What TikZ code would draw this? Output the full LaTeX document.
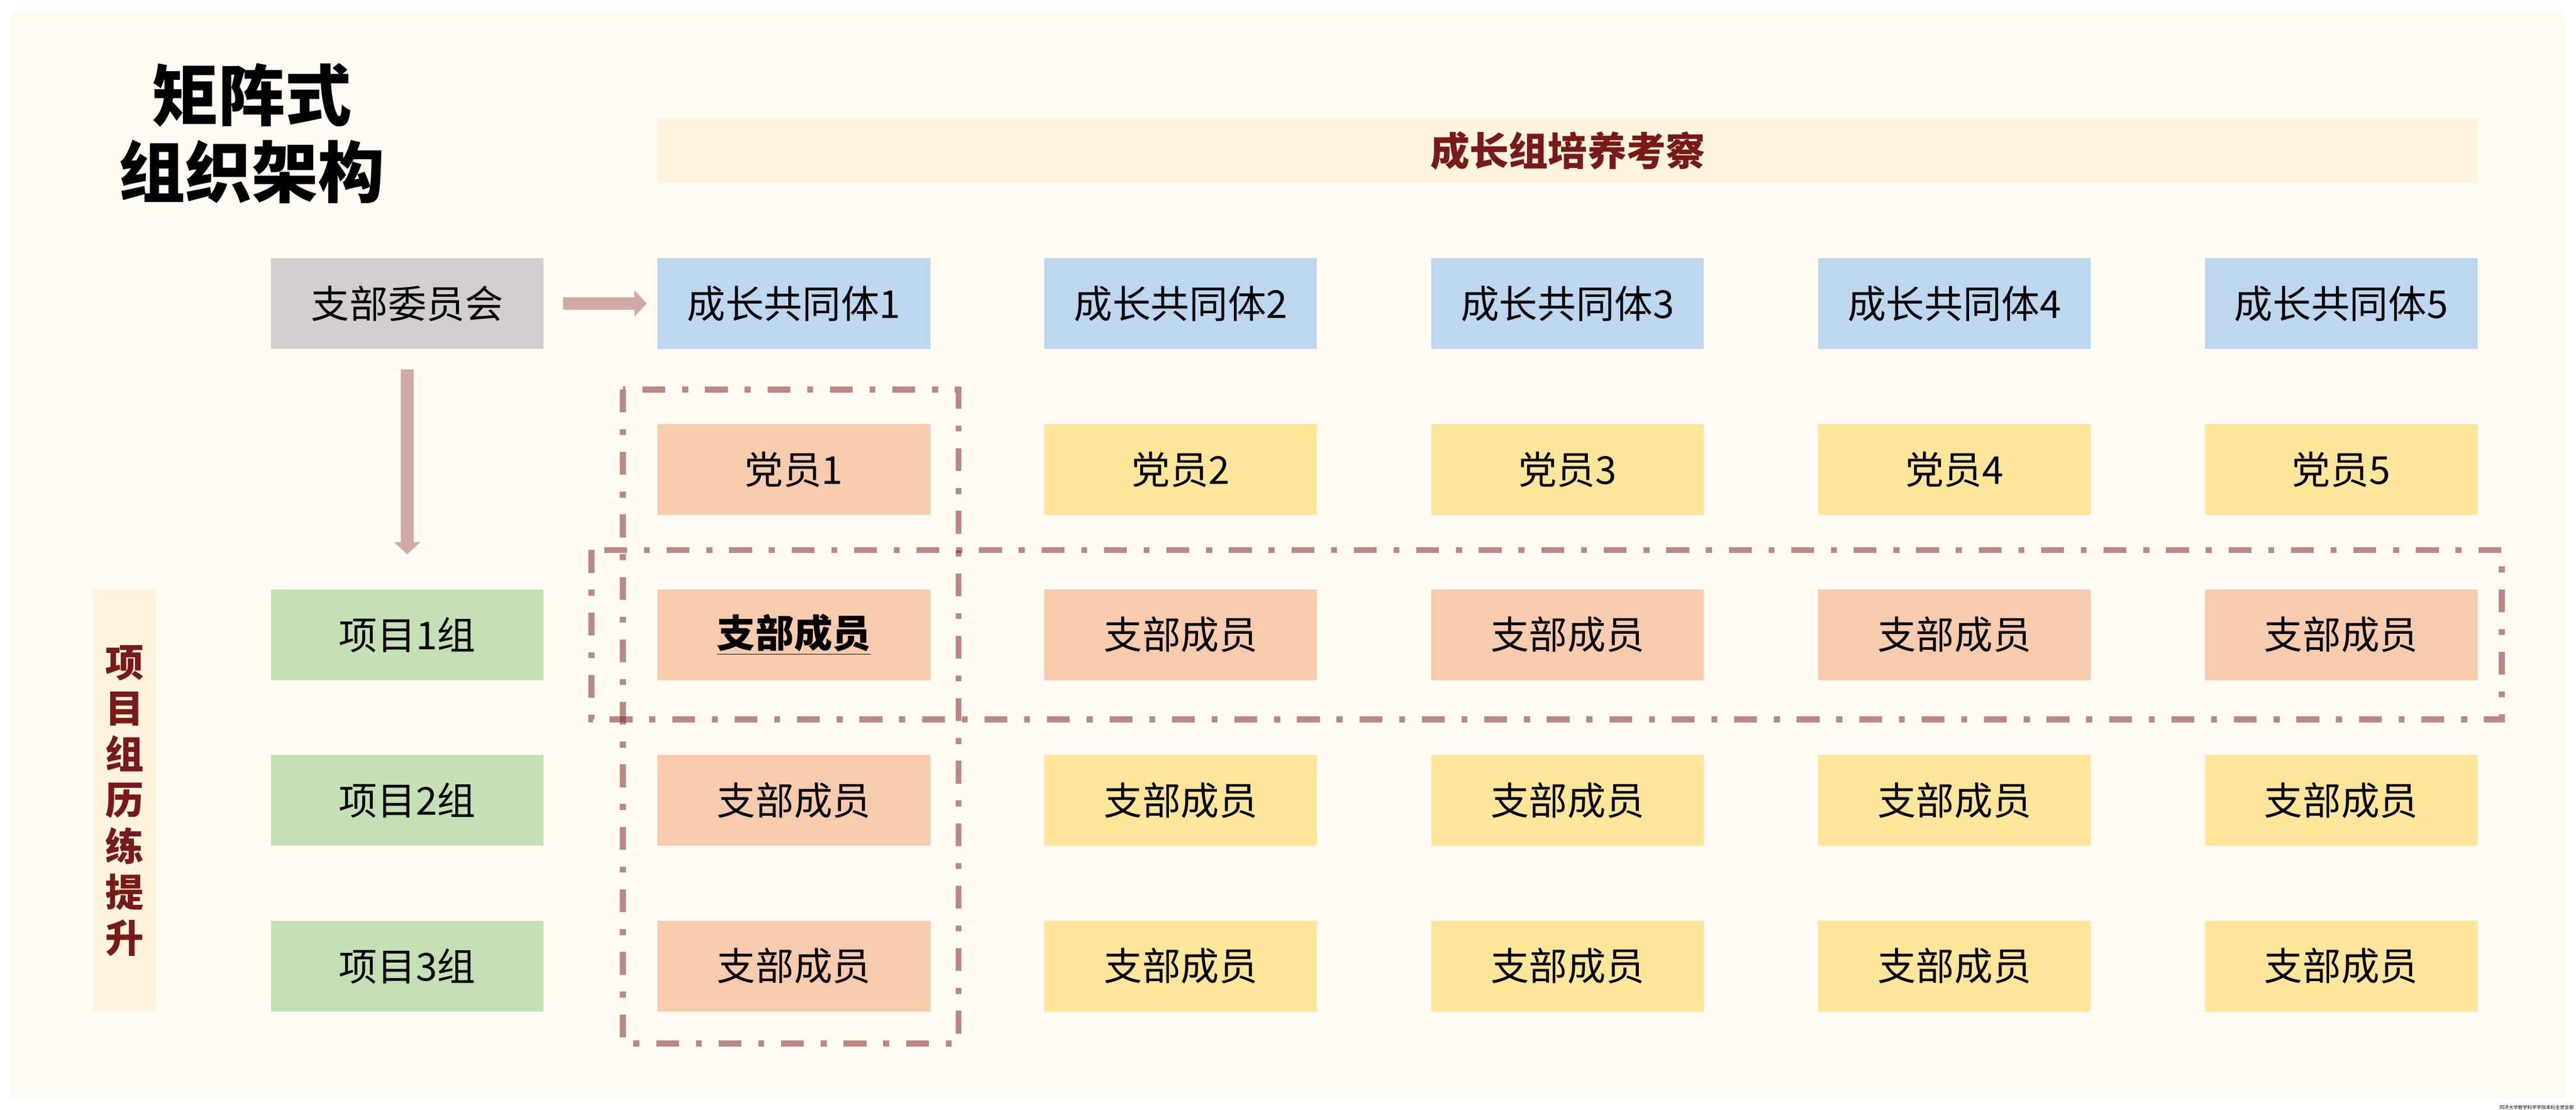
\documentclass[tikz,border=0pt]{standalone}
\usepackage{fontspec}
\setmainfont{Noto Sans CJK SC}
\usetikzlibrary{arrows.meta}

\definecolor{panelbg}{HTML}{FFFBF3}
\definecolor{bandbg}{HTML}{FEF4DE}
\definecolor{darkred}{HTML}{7A1919}
\definecolor{grayb}{HTML}{D0CECE}
\definecolor{blueb}{HTML}{BDD7EE}
\definecolor{greenb}{HTML}{C5E0B4}
\definecolor{orangeb}{HTML}{F8CBAD}
\definecolor{yellowb}{HTML}{FFE699}
\definecolor{arrowc}{HTML}{D1AAA8}
\definecolor{framec}{HTML}{802328}

\tikzset{
  cell/.style={minimum width=5.98cm, minimum height=1.99cm, inner sep=0pt, font=\fontsize{24}{28}\selectfont},
  bigarrow/.style={arrowc, line width=0.28cm, -{Triangle[width=0.56cm,length=0.27cm]}},
  frame/.style={framec, draw opacity=0.53, line width=0.13cm, dash pattern=on 0.5cm off 0.37cm on 0.13cm off 0.37cm},
}

\begin{document}
\begin{tikzpicture}
				% Page and light panel
				\fill[white] (0,0) rectangle (56.49,-24.33);
				\useasboundingbox (0,0) rectangle (56.49,-24.33);
				\fill[panelbg] (0.21,-0.24) rectangle (56.25,-24.11);
				
				% Title
				\node[font=\fontsize{41.5}{48}\selectfont\bfseries, align=center] (title) at (5.52,-2.925) {矩阵式\\组织架构};
				
				% Top band and side label
				\node[fill=bandbg, minimum width=39.92cm, minimum height=1.41cm, inner sep=0pt, text=darkred, font=\fontsize{24.5}{28}\selectfont\bfseries] (band) at (34.38,-3.305) {成长组培养考察};
				\node[fill=bandbg, minimum width=1.40cm, minimum height=9.25cm, inner sep=0pt, text=darkred, align=center, font=\fontsize{24}{28.7}\selectfont\bfseries] (side) at (2.73,-17.555) {项\\目\\组\\历\\练\\提\\升};
				
				% Committee and project groups
				\node[cell, fill=grayb] (ctte) at (8.93,-6.655) {支部委员会};
				\foreach \r in {1,2,3}
					\node[cell, fill=greenb] (proj\r) at (8.93,{-13.915-(\r-1)*3.6325}) {项目\r{}组};
				
				% Growth communities, one column each
				\foreach \i/\fc in {1/orangeb,2/yellowb,3/yellowb,4/yellowb,5/yellowb} {
					\pgfmathsetmacro\cx{17.41+(\i-1)*8.4825}
					\node[cell, fill=blueb] (com\i) at (\cx,-6.655) {成长共同体\i};
					\node[cell, fill=\fc] (party\i) at (\cx,-10.29) {党员\i};
					\node[cell, fill=orangeb] (mem\i-1) at (\cx,-13.915) {\ifnum\i=1 \underline{\textbf{支部成员}}\else 支部成员\fi};
					\node[cell, fill=\fc] (mem\i-2) at (\cx,-17.55) {支部成员};
					\node[cell, fill=\fc] (mem\i-3) at (\cx,-21.18) {支部成员};
				}
				
				% Arrows
				\draw[bigarrow, shorten <=0.42cm, shorten >=0.23cm] (ctte) -- (com1);
				\draw[bigarrow, shorten <=0.44cm, shorten >=0.76cm] (ctte) -- (proj1);
				
				% Dashed frames
				\draw[frame] (13.66,-8.54) rectangle (21.02,-22.88);
				\draw[frame] (12.97,-12.06) rectangle (54.86,-15.77);
				
				% Footer
				\node[font=\fontsize{2.9}{3}\selectfont, anchor=east, inner sep=0pt] (foot) at (56.45,-24.28) {同济大学数学科学学院本科生党支部};
			\end{tikzpicture}
\end{document}
